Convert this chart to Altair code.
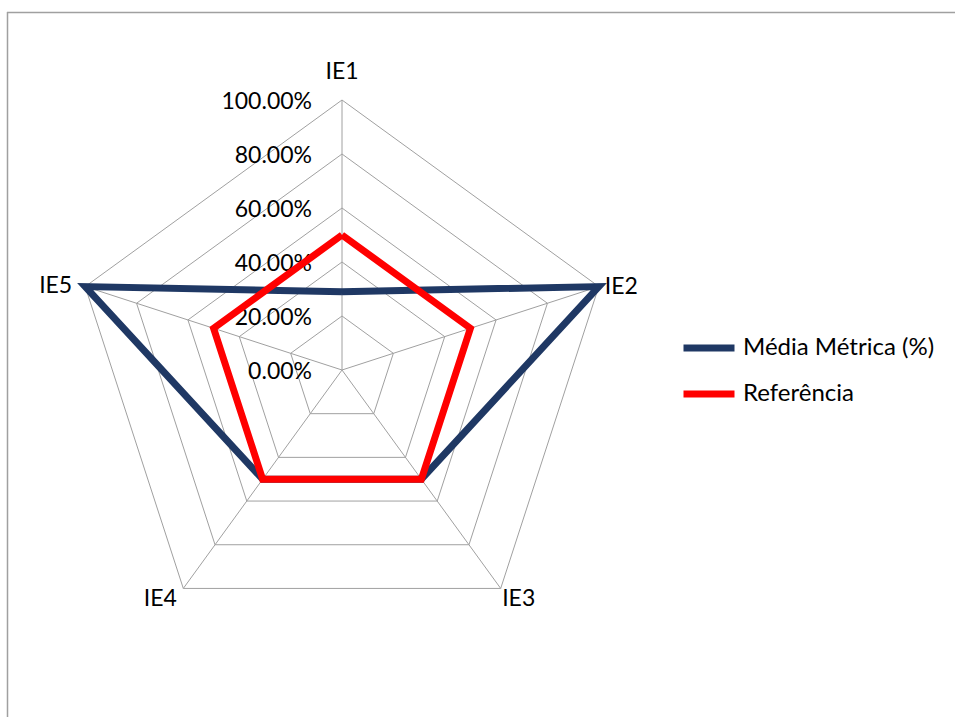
import math
import altair as alt
import pandas as pd

# --- data ---------------------------------------------------------------
categories = ["IE1", "IE2", "IE3", "IE4", "IE5"]
media_metrica = [0.29, 1.00, 0.50, 0.50, 1.00]
referencia = [0.50, 0.50, 0.50, 0.50, 0.50]
series_names = ["Média Métrica (%)", "Referência"]
series_colors = ["#1F3864", "#FF0000"]
ring_levels = [0.0, 0.2, 0.4, 0.6, 0.8, 1.0]
ring_labels = ["0.00%", "20.00%", "40.00%", "60.00%", "80.00%", "100.00%"]

# --- layout -------------------------------------------------------------
PAD_L, PAD_T = 7, 12
W, H = 955 - PAD_L, 717 - PAD_T
CX, CY = 335, 358          # centre of the radar inside the view (px)
R = 270                    # pixel radius of the 100% ring
FONT = "Lato"
FS = 23
GRID = "#A0A0A0"

xdom = [-CX / R, (W - CX) / R]
ydom = [-(H - CY) / R, CY / R]
xs = alt.Scale(domain=xdom, nice=False, zero=False)
ys = alt.Scale(domain=ydom, nice=False, zero=False)


def ang(i):
    return math.radians(90 - 72 * i)


# series polygons (closed)
srows = []
for name, vals in zip(series_names, [media_metrica, referencia]):
    for j in range(len(categories) + 1):
        k = j % len(categories)
        a = ang(k)
        srows.append({"series": name, "ord": j,
                      "x": vals[k] * math.cos(a), "y": vals[k] * math.sin(a)})
series_df = pd.DataFrame(srows)

# grid pentagons
grows = []
for lv in ring_levels[1:]:
    for j in range(len(categories) + 1):
        a = ang(j % len(categories))
        grows.append({"ring": lv, "ord": j,
                      "x": lv * math.cos(a), "y": lv * math.sin(a)})
grid_df = pd.DataFrame(grows)

# spokes
spoke_df = pd.DataFrame([
    {"x": 0.0, "y": 0.0, "x2": math.cos(ang(i)), "y2": math.sin(ang(i))}
    for i in range(len(categories))
])

# ring value labels
ring_df = pd.DataFrame({"y": ring_levels, "label": ring_labels, "x": 0.0})

X = alt.X("x:Q", scale=xs, axis=None)
Y = alt.Y("y:Q", scale=ys, axis=None)

grid = alt.Chart(grid_df).mark_line(color=GRID, strokeWidth=1).encode(
    x=X, y=Y, detail="ring:N", order="ord:Q")

spokes = alt.Chart(spoke_df).mark_rule(color=GRID, strokeWidth=1).encode(
    x=X, y=Y, x2="x2:Q", y2="y2:Q")

ring_text = alt.Chart(ring_df).mark_text(
    align="right", baseline="middle", dx=-30, dy=2,
    font=FONT, fontSize=FS, color="#000000").encode(x=X, y=Y, text="label:N")

lines = alt.Chart(series_df).mark_line(strokeWidth=7, strokeJoin="miter").encode(
    x=X, y=Y, order="ord:Q",
    color=alt.Color(
        "series:N",
        scale=alt.Scale(domain=series_names, range=series_colors),
        legend=alt.Legend(
            title=None, orient="none", legendX=673, legendY=307,
            symbolType="stroke", symbolSize=2601, symbolStrokeWidth=7,
            labelFont=FONT, labelFontSize=24, labelColor="#000000",
            labelOffset=5, labelLimit=0, rowPadding=3,
        ),
    ),
)

# category labels around the outer ring
label_style = [
    dict(align="center", baseline="middle", dx=0, dy=-28),
    dict(align="left", baseline="middle", dx=6, dy=0),
    dict(align="center", baseline="middle", dx=18, dy=11),
    dict(align="center", baseline="middle", dx=-23, dy=11),
    dict(align="right", baseline="middle", dx=-13, dy=-1),
]
cat_layers = []
for i, (cat, st) in enumerate(zip(categories, label_style)):
    df = pd.DataFrame([{"x": math.cos(ang(i)), "y": math.sin(ang(i)), "label": cat}])
    cat_layers.append(
        alt.Chart(df).mark_text(font=FONT, fontSize=FS, color="#000000", **st)
        .encode(x=X, y=Y, text="label:N"))

# chart-area border (top and left edges)
border_top = alt.Chart(pd.DataFrame({"k": [0]})).mark_rule(color=GRID, strokeWidth=1.5).encode(
    x=alt.value(0), x2=alt.value(W), y=alt.value(0.5))
border_left = alt.Chart(pd.DataFrame({"k": [0]})).mark_rule(color=GRID, strokeWidth=1.5).encode(
    x=alt.value(0.5), y=alt.value(0), y2=alt.value(H))

chart = alt.layer(
    border_top, border_left, grid, spokes, ring_text, lines, *cat_layers
).properties(
    width=W, height=H,
    padding={"left": PAD_L, "top": PAD_T, "right": 0, "bottom": 0},
    autosize=alt.AutoSizeParams(type="none"),
    background="#FFFFFF",
).configure_view(stroke=None)

chart.save("out.html", embed_options={"renderer": "svg", "actions": False})
